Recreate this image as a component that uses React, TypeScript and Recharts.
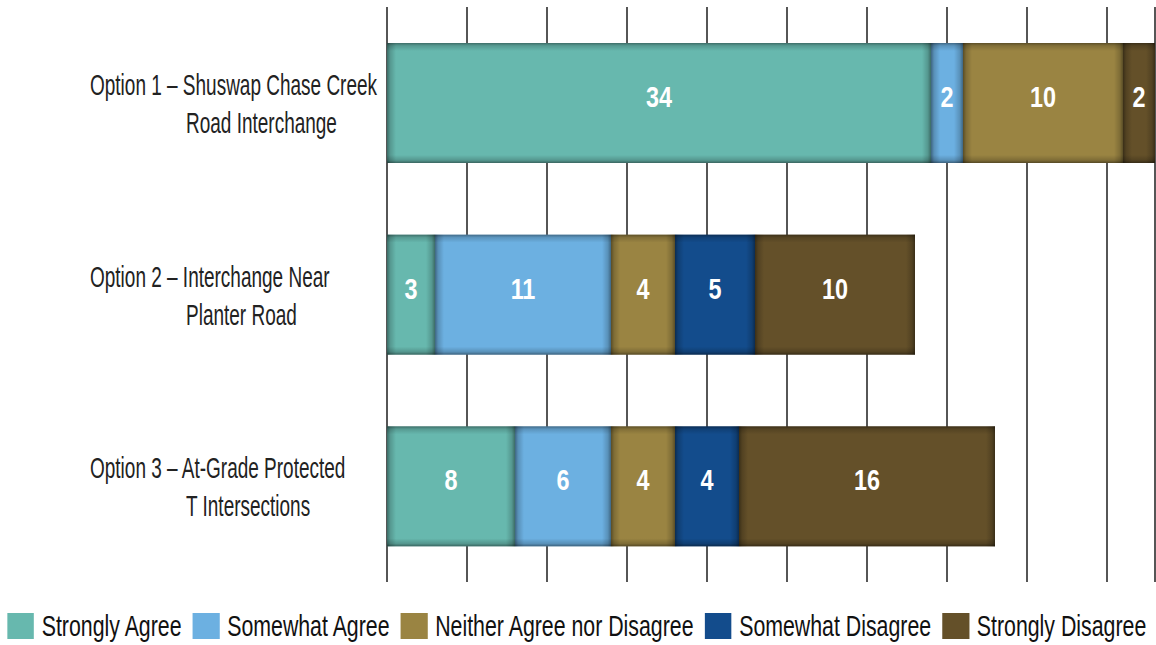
import React from "react";
import { BarChart, Bar, XAxis, YAxis, CartesianGrid, Legend, LabelList } from "recharts";

const categories = [
  "Option 1 – Shuswap Chase Creek\nRoad Interchange",
  "Option 2 – Interchange Near\nPlanter Road",
  "Option 3 – At-Grade Protected\nT Intersections",
];
const stronglyAgree = [34, 3, 8];
const somewhatAgree = [2, 11, 6];
const neitherAgree = [10, 4, 4];
const somewhatDisagree = [0, 5, 4];
const stronglyDisagree = [2, 10, 16];
const xTicks = [0, 5, 10, 15, 20, 25, 30, 35, 40, 45];

const seriesNames = [
  "Strongly Agree",
  "Somewhat Agree",
  "Neither Agree nor Disagree",
  "Somewhat Disagree",
  "Strongly Disagree",
];
const seriesKeys = ["sa", "swa", "nn", "swd", "sd"];
const seriesColors = ["#67b8ae", "#6cb0e1", "#9a8442", "#134c8c", "#645029"];

const data = categories.map((name, i) => ({
  name,
  sa: stronglyAgree[i],
  swa: somewhatAgree[i],
  nn: neitherAgree[i],
  swd: somewhatDisagree[i],
  sd: stronglyDisagree[i],
}));

const FONT = '"Liberation Sans", Arial, sans-serif';

const EdgeDefs = () => (
  <defs>
    <linearGradient id="edgeL" x1="0" y1="0" x2="1" y2="0">
      <stop offset="0" stopColor="#000" stopOpacity="0.42" />
      <stop offset="0.35" stopColor="#000" stopOpacity="0.18" />
      <stop offset="1" stopColor="#000" stopOpacity="0" />
    </linearGradient>
    <linearGradient id="edgeR" x1="1" y1="0" x2="0" y2="0">
      <stop offset="0" stopColor="#000" stopOpacity="0.42" />
      <stop offset="0.35" stopColor="#000" stopOpacity="0.18" />
      <stop offset="1" stopColor="#000" stopOpacity="0" />
    </linearGradient>
    <linearGradient id="edgeT" x1="0" y1="0" x2="0" y2="1">
      <stop offset="0" stopColor="#000" stopOpacity="0.4" />
      <stop offset="0.35" stopColor="#000" stopOpacity="0.16" />
      <stop offset="1" stopColor="#000" stopOpacity="0" />
    </linearGradient>
    <linearGradient id="edgeB" x1="0" y1="1" x2="0" y2="0">
      <stop offset="0" stopColor="#000" stopOpacity="0.45" />
      <stop offset="0.35" stopColor="#000" stopOpacity="0.18" />
      <stop offset="1" stopColor="#000" stopOpacity="0" />
    </linearGradient>
  </defs>
);

const BevelRect = (props: any) => {
  const { x, y, width, height, fill } = props;
  if (!width || width <= 0) return null;
  const ew = Math.min(9, width / 2);
  const eh = Math.min(8, height / 2);
  return (
    <g>
      <EdgeDefs />
      <rect x={x} y={y} width={width} height={height} fill={fill} />
      <rect x={x} y={y} width={ew} height={height} fill="url(#edgeL)" />
      <rect x={x + width - ew} y={y} width={ew} height={height} fill="url(#edgeR)" />
      <rect x={x} y={y} width={width} height={eh} fill="url(#edgeT)" />
      <rect x={x} y={y + height - eh} width={width} height={eh} fill="url(#edgeB)" />
    </g>
  );
};

const EmptyTick = () => <g />;

const CategoryTick = (props: any) => {
  const { y, payload } = props;
  const lines = String(payload.value).split("\n");
  const k = 0.655;
  return (
    <g>
      <text
        transform={`translate(90, ${y - 8}) scale(${k}, 1)`}
        x={0}
        y={0}
        fontSize={29}
        fill="#222"
        fontFamily={FONT}
        textAnchor="start"
      >
        {lines[0]}
      </text>
      <text
        transform={`translate(186, ${y + 30}) scale(${k}, 1)`}
        x={0}
        y={0}
        fontSize={29}
        fill="#222"
        fontFamily={FONT}
        textAnchor="start"
      >
        {lines[1]}
      </text>
    </g>
  );
};

const ValueLabel = (props: any) => {
  const { x, y, width, height, value } = props;
  if (!value) return null;
  const cx = x + width / 2;
  const by = y + height / 2 + 4;
  return (
    <text
      transform={`translate(${cx}, ${by}) scale(0.78, 1)`}
      x={0}
      y={0}
      fill="#ffffff"
      fontSize={30}
      fontWeight="bold"
      fontFamily={FONT}
      textAnchor="middle"
    >
      {value}
    </text>
  );
};

const LK = 0.735;
const LegendContent = () => (
  <div style={{ height: 36, width: 1156, overflow: "visible" }}>
    <div
      style={{
        height: 36,
        display: "flex",
        alignItems: "center",
        paddingLeft: 7 / LK,
        fontFamily: FONT,
        fontSize: 29,
        color: "#111",
        whiteSpace: "nowrap",
        transform: `scaleX(${LK})`,
        transformOrigin: "left center",
        width: "max-content",
      }}
    >
      {seriesNames.map((n, i) => (
        <div key={n} style={{ display: "flex", alignItems: "center", marginRight: 11 / LK }}>
          <div style={{ width: 27 / LK, height: 26, background: seriesColors[i], marginRight: 7.7 / LK }} />
          <span style={{ lineHeight: "36px" }}>{n}</span>
        </div>
      ))}
    </div>
  </div>
);

export default function App() {
  return (
    <div style={{ position: "absolute", left: 0, top: 0, width: 1156, height: 645, background: "#fff" }}>
      <BarChart
        width={1156}
        height={645}
        data={data}
        layout="vertical"
        margin={{ top: 7, right: 1, left: 0, bottom: 26 }}
        barSize={120}
      >
        <CartesianGrid horizontal={false} stroke="#1e1e1e" strokeWidth={1.5} />
        <XAxis
          type="number"
          domain={[0, 48]}
          ticks={xTicks}
          interval={0}
          tick={<EmptyTick />}
          axisLine={false}
          tickLine={false}
          height={1}
        />
        <YAxis
          type="category"
          dataKey="name"
          width={387}
          axisLine={false}
          tickLine={false}
          tick={<CategoryTick />}
          interval={0}
        />
        <Legend verticalAlign="bottom" wrapperStyle={{ bottom: 1 }} content={<LegendContent />} />
        {seriesKeys.map((k, i) => (
          <Bar
            key={k}
            dataKey={k}
            name={seriesNames[i]}
            stackId="a"
            fill={seriesColors[i]}
            shape={<BevelRect />}
            isAnimationActive={false}
          >
            <LabelList dataKey={k} content={<ValueLabel />} />
          </Bar>
        ))}
      </BarChart>
    </div>
  );
}
